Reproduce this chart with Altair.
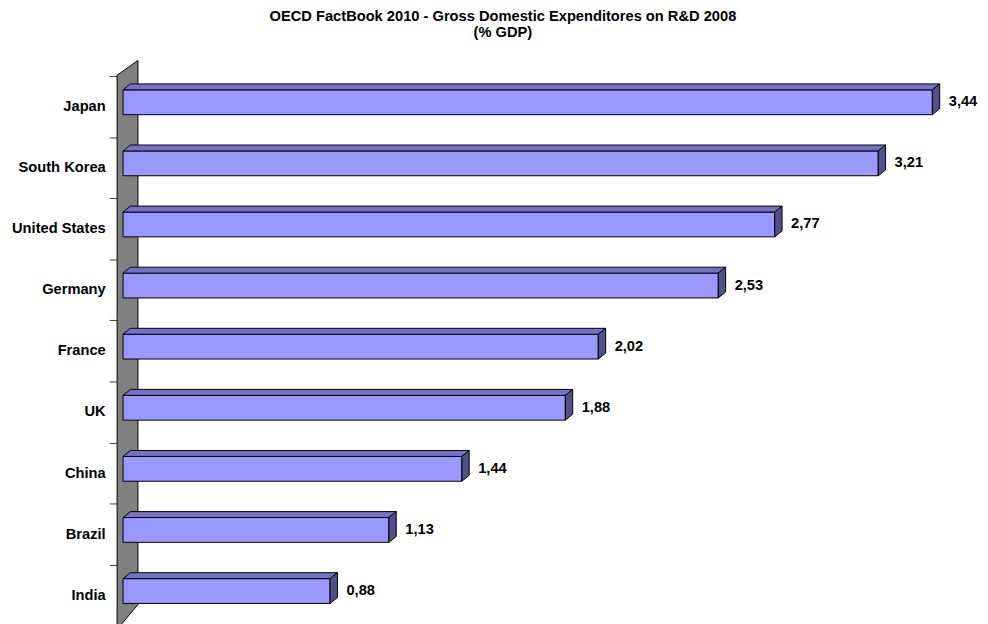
import altair as alt
import pandas as pd

countries = ["Japan", "South Korea", "United States", "Germany", "France",
             "UK", "China", "Brazil", "India"]
values = [3.44, 3.21, 2.77, 2.53, 2.02, 1.88, 1.44, 1.13, 0.88]
title_lines = ["OECD FactBook 2010 - Gross Domestic Expenditores on R&D 2008",
               "(% GDP)"]

# layout constants (pixels per unit / per row)
PX = 237.2
ROW = 61.6
W = 852
H = 550
X0 = -6 / PX
XMAX = X0 + W / PX
YMAX = H / ROW
DX = 7.4 / PX          # 3D depth in value units
DY = 6 / ROW           # 3D depth in row units
FT, FB = 14 / ROW, 39 / ROW
FS = 14.8

front_rows, top_rows, side_rows, lab_rows = [], [], [], []
for i, (c, v) in enumerate(zip(countries, values)):
    front_rows.append({"c": c, "x": 0.0, "x2": v, "y": i + FT, "y2": i + FB})
    top_rows.append({"c": c, "y": i + FT, "x": 0.0, "x2": v})
    top_rows.append({"c": c, "y": i + FT - DY, "x": DX, "x2": v + DX})
    side_rows.append({"c": c, "x": v, "y": i + FT, "y2": i + FB})
    side_rows.append({"c": c, "x": v + DX, "y": i + FT - DY, "y2": i + FB - DY})
    lab_rows.append({"c": c, "x": v, "y": i + (FT + FB) / 2,
                     "t": f"{v:.2f}".replace(".", ",")})

front = pd.DataFrame(front_rows)
top = pd.DataFrame(top_rows)
side = pd.DataFrame(side_rows)
labs = pd.DataFrame(lab_rows)
wall = pd.DataFrame({
    "x": [X0, 15 / PX],
    "y": [-0.7 / ROW, -15.7 / ROW],
    "y2": [558 / ROW, 533 / ROW],
})

xs = alt.Scale(domain=[X0, XMAX], nice=False, zero=False)
ys = alt.Scale(domain=[0, YMAX], nice=False, zero=False, reverse=True)

label_expr = "[" + ",".join(f"'{c}'" for c in countries) + "][datum.value]"
yaxis = alt.Axis(
    values=list(range(len(countries))), domain=False, grid=False,
    tickSize=8, tickColor="#404040", tickWidth=1,
    labelExpr=label_expr, labelOffset=ROW / 2, labelPadding=4,
    labelFont="Liberation Sans", labelFontSize=FS,
    labelFontWeight="bold", labelColor="black", labelOverlap=False,
    labelBound=False, labelFlush=False, title=None)

wall_l = alt.Chart(wall).mark_area(
    orient="vertical", fill="#808080", stroke="black", strokeWidth=1
).encode(
    x=alt.X("x:Q", scale=xs, axis=None),
    y=alt.Y("y:Q", scale=ys, axis=yaxis),
    y2="y2:Q",
)

front_l = alt.Chart(front).mark_bar(
    fill="#9999FF", stroke="black", strokeWidth=1
).encode(
    x=alt.X("x:Q", scale=xs, axis=None),
    x2="x2:Q",
    y=alt.Y("y:Q", scale=ys, axis=yaxis),
    y2="y2:Q",
)

top_l = alt.Chart(top).mark_area(
    orient="horizontal", fill="#7272C6", stroke="black", strokeWidth=1
).encode(
    y=alt.Y("y:Q", scale=ys, axis=yaxis),
    x=alt.X("x:Q", scale=xs, axis=None),
    x2="x2:Q",
    detail="c:N",
)

side_l = alt.Chart(side).mark_area(
    orient="vertical", fill="#50508A", stroke="black", strokeWidth=1
).encode(
    x=alt.X("x:Q", scale=xs, axis=None),
    y=alt.Y("y:Q", scale=ys, axis=yaxis),
    y2="y2:Q",
    detail="c:N",
)

text_l = alt.Chart(labs).mark_text(
    align="left", baseline="middle", dx=16.5, font="Liberation Sans",
    fontSize=FS, fontWeight="bold", color="black"
).encode(
    x=alt.X("x:Q", scale=xs, axis=None),
    y=alt.Y("y:Q", scale=ys, axis=yaxis),
    text="t:N",
)

chart = alt.layer(wall_l, front_l, top_l, side_l, text_l).properties(
    width=W, height=H,
    padding={"left": 110, "top": 66, "right": 18, "bottom": 0},
    autosize=alt.AutoSizeParams(type="none"),
    background="white",
    title=alt.TitleParams(
        text=title_lines, font="Liberation Sans", fontSize=FS,
        fontWeight="bold", color="black", anchor="middle", frame="group",
        offset=19, dx=-37, lineHeight=15.5),
).configure_view(stroke=None)

chart.save("out.html", embed_options={"renderer": "svg", "actions": False})
